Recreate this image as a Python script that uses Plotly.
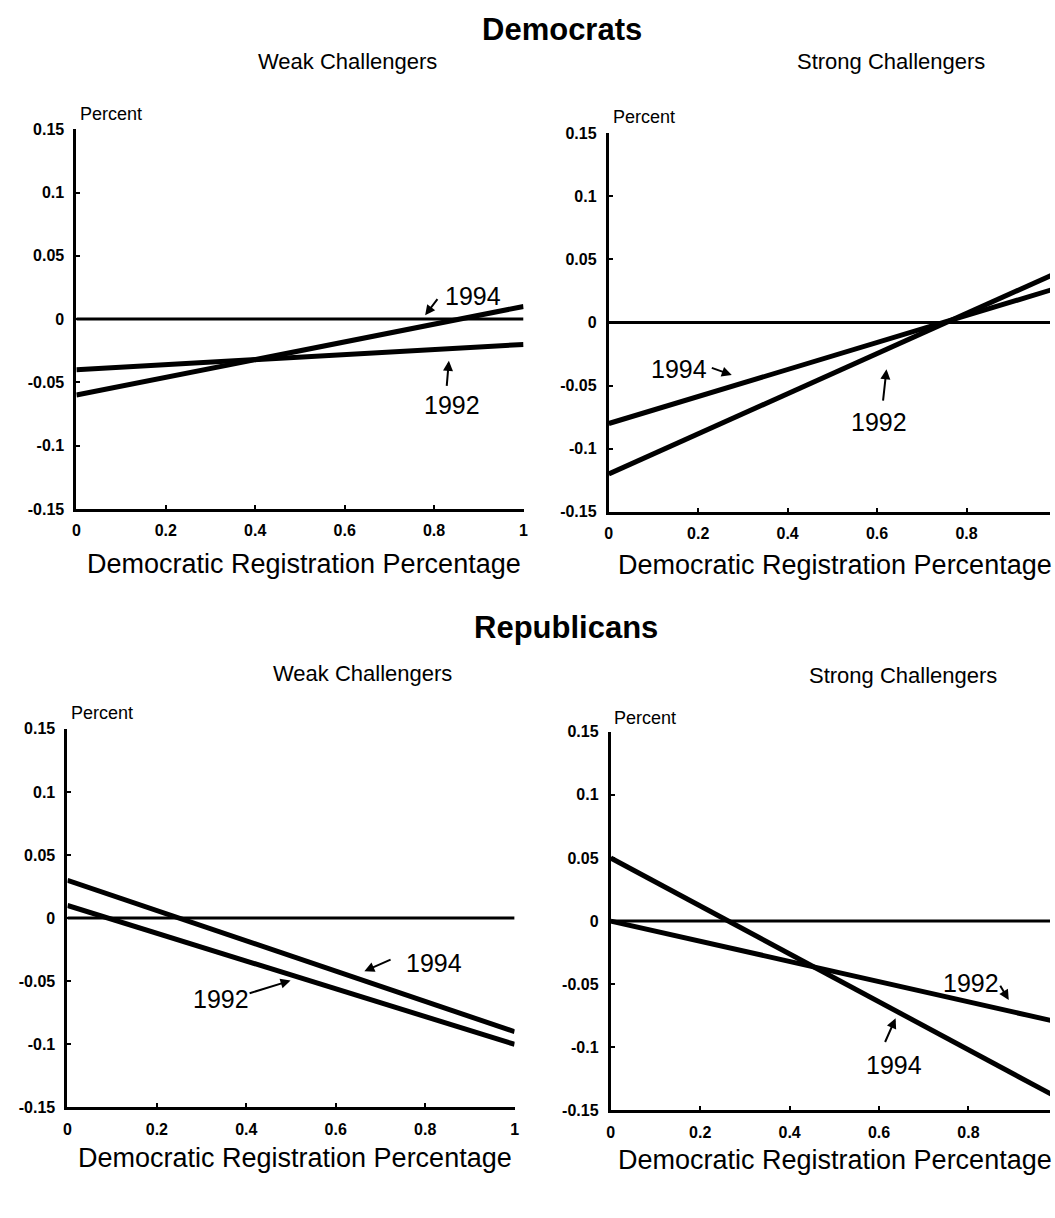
import plotly.graph_objects as go

W, H = 1055, 1218

# ---------------- data ----------------
x_ends = [0, 1]
zero_line = [0, 0]
# Democrats
dem_weak_1992 = [-0.04, -0.02]
dem_weak_1994 = [-0.06, 0.01]
dem_strong_1992 = [-0.12, 0.039]
dem_strong_1994 = [-0.08, 0.027]
# Republicans
rep_weak_1992 = [0.01, -0.10]
rep_weak_1994 = [0.03, -0.09]
rep_strong_1992 = [0.0, -0.08]
rep_strong_1994 = [0.05, -0.14]

y_tickvals = [0.15, 0.1, 0.05, 0, -0.05, -0.1, -0.15]
y_ticktext = ["0.15", "0.1", "0.05", "0", "-0.05", "-0.1", "-0.15"]
x_tickvals = [0, 0.2, 0.4, 0.6, 0.8, 1]
x_ticktext = ["0", "0.2", "0.4", "0.6", "0.8", "1"]

group_titles = ["Democrats", "Republicans"]
panel_titles = ["Weak Challengers", "Strong Challengers"]
x_title = "Democratic Registration Percentage"
y_label = "Percent"

FONT = "Liberation Sans, Arial, sans-serif"


def pxx(p):
    return p / W


def pxy(p):
    return 1 - p / H


# panels: (series1992, series1994, pixel box left,right,top,bottom)
panels = [
    (dem_weak_1992, dem_weak_1994, (73, 524, 123, 508)),
    (dem_strong_1992, dem_strong_1994, (610, 1061, 127, 511)),
    (rep_weak_1992, rep_weak_1994, (64, 515, 731, 1115)),
    (rep_strong_1992, rep_strong_1994, (612, 1063, 734, 1118)),
]

fig = go.Figure()
layout_axes = {}
for i, (s92, s94, (l, r, t, b)) in enumerate(panels, start=1):
    xa = "x" if i == 1 else f"x{i}"
    ya = "y" if i == 1 else f"y{i}"
    for ys, w in ((zero_line, 3), (s92, 5), (s94, 5)):
        fig.add_trace(go.Scatter(x=x_ends, y=ys, mode="lines",
                                 line=dict(color="black", width=w),
                                 xaxis=xa, yaxis=ya, showlegend=False,
                                 hoverinfo="skip"))
    right = min(r, W)
    xmax = (right - l) / (r - l)
    axcommon = dict(showline=True, linecolor="black", linewidth=3,
                    ticks="inside", ticklen=4, tickwidth=1.5, tickcolor="black",
                    showgrid=False, zeroline=False,
                    tickfont=dict(family=FONT, size=16, color="black", weight="bold"))
    layout_axes["xaxis" if i == 1 else f"xaxis{i}"] = dict(
        axcommon, domain=[pxx(l), pxx(right)], range=[0, xmax],
        tickvals=x_tickvals, ticktext=x_ticktext, anchor=ya,
        ticklabelstandoff=5)
    layout_axes["yaxis" if i == 1 else f"yaxis{i}"] = dict(
        axcommon, domain=[pxy(b), pxy(t)], range=[-0.15, 0.15],
        tickvals=y_tickvals, ticktext=y_ticktext, anchor=xa,
        ticklabelstandoff=6)

fig.update_layout(**layout_axes)

ann = []
# group titles
for txt, (cx, cy) in zip(group_titles, [(563, 22), (567, 628)]):
    ann.append(dict(text=f"<b>{txt}</b>", x=pxx(cx), y=pxy(cy), xref="paper", yref="paper",
                    showarrow=False, font=dict(family=FONT, size=31, color="black"),
                    xanchor="center", yanchor="middle"))
# panel titles
for txt, (cx, cy) in zip(panel_titles * 2, [(346, 54), (895, 54), (362, 675), (907, 677)]):
    ann.append(dict(text=txt, x=pxx(cx), y=pxy(cy), xref="paper", yref="paper",
                    showarrow=False, font=dict(family=FONT, size=22, color="black"),
                    xanchor="center", yanchor="middle"))
# x titles
for (cx, cy) in [(303, 564), (838, 565), (293, 1166), (838, 1168)]:
    ann.append(dict(text=x_title, x=pxx(cx), y=pxy(cy), xref="paper", yref="paper",
                    showarrow=False, font=dict(family=FONT, size=27, color="black"),
                    xanchor="center", yanchor="middle"))
# Percent labels
for (lx, cy) in [(75, 108), (612, 111), (66, 715), (613, 720)]:
    ann.append(dict(text=y_label, x=pxx(lx), y=pxy(cy), xref="paper", yref="paper",
                    showarrow=False, font=dict(family=FONT, size=18, color="black"),
                    xanchor="left", yanchor="middle"))

# year labels with arrows: (panel, text, text x,y, tail x,y, tip x,y) in data units
year_labels = [
    (1, "1994", 0.887, 0.018, 0.81, 0.017, 0.78, 0.003),
    (1, "1992", 0.84, -0.068, 0.828, -0.054, 0.833, -0.033),
    (2, "1994", 0.156, -0.037, 0.227, -0.0355, 0.275, -0.0416),
    (2, "1992", 0.604, -0.079, 0.613, -0.063, 0.621, -0.037),
    (3, "1994", 0.819, -0.0354, 0.726, -0.0323, 0.664, -0.042),
    (3, "1992", 0.343, -0.064, 0.404, -0.0599, 0.499, -0.0495),
    (4, "1992", 0.806, -0.049, 0.869, -0.050, 0.89, -0.0625),
    (4, "1994", 0.634, -0.114, 0.612, -0.097, 0.637, -0.077),
]
for (p, txt, tx, ty, ax_, ay_, hx, hy) in year_labels:
    xr = "x" if p == 1 else f"x{p}"
    yr = "y" if p == 1 else f"y{p}"
    ann.append(dict(text=txt, x=tx, y=ty, xref=xr, yref=yr, showarrow=False,
                    font=dict(family=FONT, size=25, color="black"),
                    xanchor="center", yanchor="middle"))
    ann.append(dict(text="", x=hx, y=hy, ax=ax_, ay=ay_, xref=xr, yref=yr,
                    axref=xr, ayref=yr, showarrow=True, arrowhead=2,
                    arrowsize=1, arrowwidth=2, arrowcolor="black"))

fig.update_layout(
    width=W, height=H,
    margin=dict(l=0, r=0, t=0, b=0),
    paper_bgcolor="white", plot_bgcolor="white",
    showlegend=False,
    annotations=ann,
    font=dict(family=FONT, color="black"),
)

fig.write_html("out.html",
               config={"displayModeBar": False},
               post_script="document.body.style.margin='0';document.body.style.overflow='hidden';")
